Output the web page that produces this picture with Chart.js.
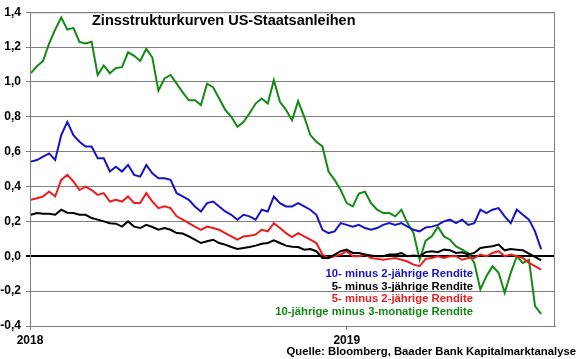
<!DOCTYPE html>
<html>
<head>
<meta charset="utf-8">
<script src="https://cdn.jsdelivr.net/npm/chart.js@4"></script>
<style>
  body { margin: 0; background: #fff; }
  #wrap { width: 580px; height: 359px; }
</style>
</head>
<body>
<div id="wrap"><canvas id="chart" width="580" height="359"></canvas></div>
<script>
// weekly observations starting 2 Jan 2018 (x = days since 1 Jan 2018)
const startDay = 1;
const stepDays = 7;
const yearTicks = [{ day: 0, label: "2018" }, { day: 365, label: "2019" }];

const spread10y2y = [0.543,0.552,0.571,0.59,0.552,0.695,0.771,0.695,0.657,0.629,
  0.629,0.562,0.562,0.486,0.514,0.486,0.524,0.467,0.457,0.524,
  0.476,0.448,0.448,0.438,0.362,0.343,0.324,0.286,0.257,0.305,
  0.314,0.286,0.257,0.238,0.21,0.238,0.229,0.21,0.267,0.257,
  0.343,0.305,0.286,0.286,0.305,0.286,0.267,0.238,0.152,0.133,
  0.143,0.19,0.18,0.17,0.18,0.162,0.152,0.162,0.18,0.19,
  0.18,0.19,0.17,0.152,0.143,0.165,0.17,0.18,0.2,0.21,
  0.19,0.21,0.18,0.19,0.267,0.248,0.267,0.276,0.229,0.19,
  0.267,0.238,0.21,0.143,0.04];

const spread5y3y = [0.238,0.248,0.244,0.244,0.238,0.267,0.25,0.248,0.238,0.238,
  0.219,0.21,0.2,0.19,0.187,0.17,0.2,0.17,0.162,0.18,
  0.168,0.152,0.162,0.152,0.133,0.13,0.114,0.095,0.076,0.086,
  0.095,0.076,0.067,0.053,0.042,0.048,0.053,0.061,0.072,0.076,
  0.091,0.076,0.061,0.055,0.053,0.038,0.042,0.029,-0.01,-0.01,
  0.01,0.029,0.038,0.019,0.019,0.01,0.004,0.0,0.0,0.01,
  0.01,0.019,0.0,0.004,0.0,0.024,0.029,0.023,0.038,0.034,
  0.019,0.023,0.01,0.019,0.048,0.053,0.057,0.067,0.034,0.042,
  0.038,0.034,0.015,-0.004,-0.023];

const spread5y2y = [0.324,0.333,0.343,0.371,0.343,0.438,0.467,0.429,0.38,0.4,
  0.38,0.352,0.362,0.314,0.324,0.314,0.343,0.305,0.305,0.362,
  0.314,0.276,0.286,0.276,0.229,0.21,0.19,0.17,0.152,0.17,
  0.162,0.152,0.133,0.114,0.095,0.114,0.118,0.124,0.152,0.143,
  0.19,0.162,0.133,0.11,0.133,0.114,0.095,0.076,0.01,-0.01,
  0.0,0.01,0.029,0.0,0.0,0.01,-0.01,-0.015,-0.02,-0.015,
  -0.01,-0.02,-0.03,-0.048,-0.057,-0.015,-0.01,0.0,-0.01,0.0,
  0.0,-0.02,-0.01,-0.01,0.01,0.0,0.019,0.029,0.0,0.01,
  0.0,-0.01,-0.038,-0.057,-0.076];

const spread10y3m = [1.05,1.09,1.12,1.22,1.30,1.37,1.30,1.31,1.23,1.22,
  1.23,1.04,1.095,1.05,1.08,1.085,1.17,1.15,1.12,1.19,
  1.14,0.95,1.02,1.04,0.99,0.94,0.895,0.895,0.867,0.99,
  0.97,0.905,0.84,0.80,0.743,0.77,0.82,0.876,0.905,0.876,
  1.01,0.886,0.84,0.78,0.89,0.80,0.695,0.657,0.63,0.486,
  0.438,0.38,0.305,0.286,0.36,0.37,0.305,0.267,0.248,0.248,
  0.229,0.267,0.19,0.133,-0.02,0.09,0.114,0.17,0.114,0.095,
  0.057,0.038,0.019,-0.038,-0.19,-0.114,-0.057,-0.095,-0.21,-0.095,
  0.0,-0.038,-0.02,-0.286,-0.33];

const seriesLabels = [
  "10- minus 2-jährige Rendite",
  "5- minus 3-jährige Rendite",
  "5- minus 2-jährige Rendite",
  "10-jährige minus 3-monatige Rendite"
];
const colors = ["#1414c8", "#000000", "#ee1c1c", "#138a13"];

function toPoints(arr) {
  return arr.map((v, i) => ({ x: startDay + i * stepDays, y: v }));
}

const FONT = "'Liberation Sans', Arial, sans-serif";
const isZero = v => Math.abs(v) < 1e-9;

// title, in-plot legend, source line and frame
const annotations = {
  id: "annotations",
  afterDatasetsDraw(chart) {
    const { ctx, chartArea } = chart;
    ctx.save();
    ctx.strokeStyle = "#7f7f7f";
    ctx.lineWidth = 1;
    ctx.strokeRect(chartArea.left + 0.5, chartArea.top + 0.5,
      chartArea.right - chartArea.left - 1, chartArea.bottom - chartArea.top);

    ctx.fillStyle = "#000";
    ctx.font = "bold 14.5px " + FONT;
    ctx.textBaseline = "middle";
    ctx.textAlign = "left";
    ctx.fillText("Zinsstrukturkurven US-Staatsanleihen", 92, 21);

    ctx.font = "bold 11.3px " + FONT;
    ctx.textAlign = "right";
    const legendY = [274, 286.5, 299, 311.5];
    seriesLabels.forEach((t, i) => {
      ctx.fillStyle = colors[i];
      ctx.fillText(t, 473, legendY[i]);
    });

    ctx.fillStyle = "#000";
    ctx.fillText("Quelle: Bloomberg, Baader Bank Kapitalmarktanalyse", 576, 352);
    ctx.restore();
  }
};

new Chart(document.getElementById("chart"), {
  type: "line",
  data: {
    datasets: [spread10y2y, spread5y3y, spread5y2y, spread10y3m].map((arr, i) => ({
      label: seriesLabels[i],
      data: toPoints(arr),
      borderColor: colors[i],
      borderWidth: 2,
      pointRadius: 0,
      tension: 0,
      fill: false
    }))
  },
  options: {
    responsive: false,
    animation: false,
    devicePixelRatio: 1,
    layout: { padding: { top: 12, right: 25, left: 0, bottom: 0 } },
    plugins: { legend: { display: false }, tooltip: { enabled: false } },
    scales: {
      x: {
        type: "linear",
        min: 0,
        max: 605,
        afterBuildTicks: s => { s.ticks = yearTicks.map(t => ({ value: t.day })); },
        afterFit: s => { s.height = 33; },
        ticks: {
          autoSkip: false,
          maxRotation: 0,
          padding: 3,
          color: "#000",
          font: { family: FONT, size: 12, weight: "bold" },
          callback: v => (yearTicks.find(t => t.day === v) || {}).label
        },
        grid: { drawOnChartArea: false, drawTicks: true, tickLength: 4, color: "#7f7f7f" },
        border: { color: "#7f7f7f" }
      },
      y: {
        min: -0.4,
        max: 1.4,
        afterFit: s => { s.width = 30; },
        ticks: {
          stepSize: 0.2,
          padding: 5,
          color: "#000",
          font: { family: FONT, size: 12, weight: "bold" },
          callback: v => (isZero(v) ? 0 : v).toFixed(1).replace(".", ",")
        },
        grid: {
          tickLength: 4,
          color: c => (c.tick && isZero(c.tick.value) ? "#000" : "#7f7f7f"),
          lineWidth: c => (c.tick && isZero(c.tick.value) ? 2 : 1)
        },
        border: { color: "#7f7f7f" }
      }
    }
  },
  plugins: [annotations]
});
</script>
</body>
</html>
